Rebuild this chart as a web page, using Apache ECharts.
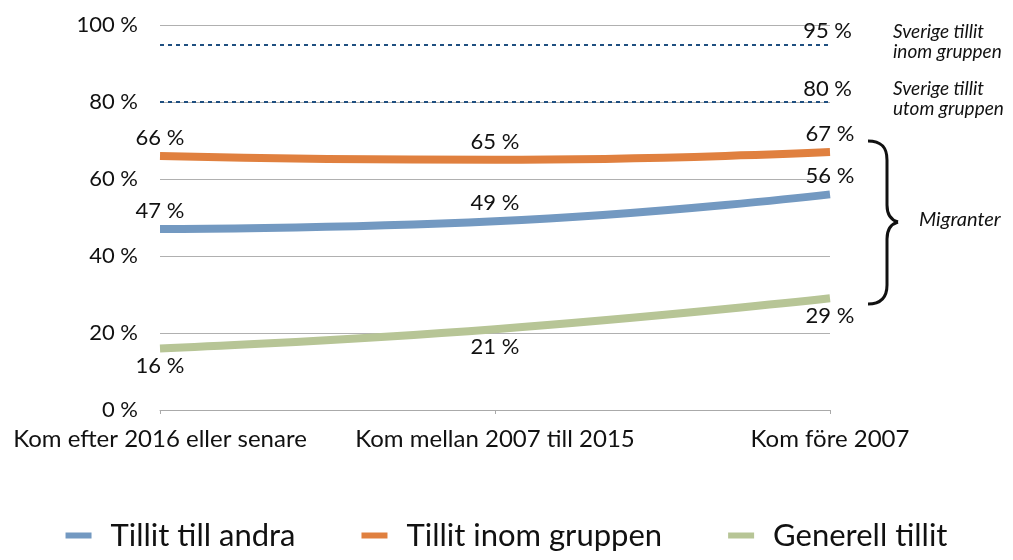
<!DOCTYPE html>
<html>
<head>
<meta charset="utf-8">
<script src="https://cdn.jsdelivr.net/npm/echarts@6/dist/echarts.min.js"></script>
<style>
html, body { margin: 0; padding: 0; background: #fff; }
#chart { width: 1013px; height: 560px; }
</style>
</head>
<body>
<div id="chart"></div>
<script>
const categories = ['Kom efter 2016 eller senare', 'Kom mellan 2007 till 2015', 'Kom före 2007']
const tillitAndra = [47, 49, 56]
const tillitInom = [66, 65, 67]
const generell = [16, 21, 29]
const sverigeInom = 95
const sverigeUtom = 80

const font = 'Lato, "Open Sans", sans-serif'
const chart = echarts.init(document.getElementById('chart'))

const lineSeries = (name, data, color, labelPos) => ({
    name: name,
    type: 'line',
    data: data,
    smooth: true,
    symbol: 'circle',
    symbolSize: 0,
    lineStyle: { width: 8, color: color },
    itemStyle: { color: color },
    label: {
        show: true,
        position: labelPos,
        distance: 7,
        formatter: '{c} %',
        fontFamily: font,
        fontSize: 22,
        color: '#111'
    },
    z: 3
})

const refLabel = (text) => ({
    show: true,
    position: 'insideEndTop',
    formatter: text,
    fontFamily: font,
    fontSize: 22,
    color: '#111',
    offset: [27, 3]
})

// brace pieces, pixel coords
const braceStyle = { stroke: '#111', lineWidth: 3, fill: null }
const curve = (x1, y1, cx1, cy1, cx2, cy2, x2, y2) => ({
    type: 'bezierCurve',
    shape: { x1: x1, y1: y1, cpx1: cx1, cpy1: cy1, cpx2: cx2, cpy2: cy2, x2: x2, y2: y2 },
    style: braceStyle
})
const seg = (x1, y1, x2, y2) => ({
    type: 'line',
    shape: { x1: x1, y1: y1, x2: x2, y2: y2 },
    style: braceStyle
})

const option = {
    animation: false,
    grid: { left: 160, right: 183, top: 25, bottom: 150 },
    xAxis: {
        type: 'category',
        data: categories,
        boundaryGap: false,
        axisLine: { lineStyle: { color: '#aaa' } },
        axisTick: { show: true, alignWithLabel: true, length: 4, lineStyle: { color: '#aaa' } },
        axisLabel: { interval: 0, hideOverlap: false, fontFamily: font, fontSize: 24, color: '#111', margin: 17 }
    },
    yAxis: {
        type: 'value',
        min: 0,
        max: 100,
        interval: 20,
        axisLine: { show: false },
        axisTick: { show: false },
        splitLine: { lineStyle: { color: '#b0b0b0', width: 1 } },
        axisLabel: { fontFamily: font, fontSize: 22, color: '#111', margin: 22, formatter: '{value} %' }
    },
    legend: {
        bottom: 4,
        left: 'center',
        itemWidth: 26,
        itemHeight: 6,
        itemGap: 66,
        icon: 'rect',
        textStyle: { fontFamily: font, fontSize: 31, color: '#111', padding: [0, 0, 0, 14] },
        data: ['Tillit till andra', 'Tillit inom gruppen', 'Generell tillit']
    },
    series: [
        Object.assign(lineSeries('Tillit till andra', tillitAndra, '#7399c1', 'top'), {
            markLine: {
                silent: true,
                symbol: 'none',
                lineStyle: { type: [4, 4], color: '#1f4f80', width: 2 },
                data: [
                    { yAxis: sverigeInom, label: refLabel(sverigeInom + ' %') },
                    { yAxis: sverigeUtom, label: refLabel(sverigeUtom + ' %') }
                ]
            }
        }),
        lineSeries('Tillit inom gruppen', tillitInom, '#e0803f', 'top'),
        lineSeries('Generell tillit', generell, '#b7c596', 'bottom')
    ],
    graphic: [
        {
            type: 'text', left: 893, top: 22,
            style: { text: 'Sverige tillit\ninom gruppen', font: 'italic 19px ' + font, fill: '#111', lineHeight: 20 }
        },
        {
            type: 'text', left: 893, top: 79,
            style: { text: 'Sverige tillit\nutom gruppen', font: 'italic 19px ' + font, fill: '#111', lineHeight: 20 }
        },
        {
            type: 'text', left: 919, top: 210,
            style: { text: 'Migranter', font: 'italic 20px ' + font, fill: '#111' }
        },
        curve(868, 141, 880, 141, 887, 146, 887, 160),
        seg(887, 160, 887, 205),
        curve(887, 205, 887, 215, 891, 220, 898, 222),
        curve(898, 222, 891, 224, 887, 229, 887, 239),
        seg(887, 239, 887, 285),
        curve(887, 285, 887, 298, 880, 304, 868, 304)
    ]
}
chart.setOption(option)
</script>
</body>
</html>
